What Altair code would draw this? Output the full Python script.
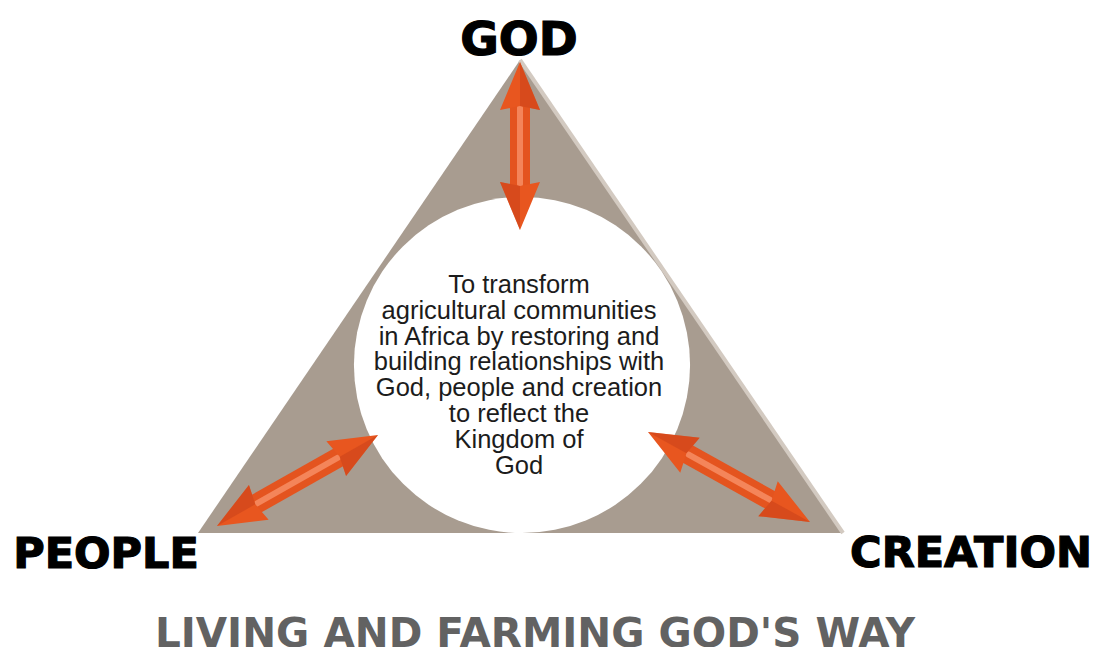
import altair as alt
import pandas as pd

# ---- diagram geometry (diagram units = picture pixels) ----
tri_x = [198, 520, 843]
tri_y = [533, 60, 533]
tri_base = [533, 533, 533]

circle_x = [522]
circle_y = [365]

arrow_names = ["GOD", "PEOPLE", "CREATION"]
arrow_x1 = [520, 217, 648]
arrow_y1 = [62, 526, 432]
arrow_x2 = [520, 378, 810]
arrow_y2 = [230, 435, 522]

corner_labels = ["GOD", "PEOPLE", "CREATION"]
corner_x = [519, 106, 971]
corner_y = [55, 568, 567]

mission_lines = [
    "To transform",
    "agricultural communities",
    "in Africa by restoring and",
    "building relationships with",
    "God, people and creation",
    "to reflect the",
    "Kingdom of",
    "God",
]
mission_x = [519]
mission_y = [293]

title_text = ["LIVING AND FARMING GOD'S WAY"]
title_x = [535]
title_y = [647]

# ---- tables ----
tri_df = pd.DataFrame({"x": tri_x, "y": tri_y, "base": tri_base})
edge_df = pd.DataFrame({"x": tri_x[1:], "y": tri_y[1:]})
circle_df = pd.DataFrame({"x": circle_x, "y": circle_y})
shaft_df = pd.DataFrame({"name": arrow_names, "x1": arrow_x1, "y1": arrow_y1,
                         "x2": arrow_x2, "y2": arrow_y2})
heads_df = pd.DataFrame({
    "tip_x": arrow_x1 + arrow_x2,
    "tip_y": arrow_y1 + arrow_y2,
    "from_x": arrow_x2 + arrow_x1,
    "from_y": arrow_y2 + arrow_y1,
})
corner_df = pd.DataFrame({"label": corner_labels, "x": corner_x, "y": corner_y})
mission_df = pd.DataFrame({"text": ["\n".join(mission_lines)], "x": mission_x, "y": mission_y})
title_df = pd.DataFrame({"text": title_text, "x": title_x, "y": title_y})

XS = alt.Scale(domain=[8, 1095], nice=False, zero=False)
YS = alt.Scale(domain=[8, 647], reverse=True, nice=False, zero=False)


def X(f):
    return alt.X(f, scale=XS, axis=None)


def Y(f):
    return alt.Y(f, scale=YS, axis=None, stack=None)


triangle = alt.Chart(tri_df).mark_area(color="#A89C90", interpolate="linear", opacity=1).encode(
    x=X("x:Q"), y=Y("y:Q"), y2=alt.Y2("base:Q")
)
edge = alt.Chart(edge_df).mark_line(color="#D3CAC1", strokeWidth=4).encode(
    x=X("x:Q"), y=Y("y:Q")
)
# circle symbol size = (diameter)^2
circle = alt.Chart(circle_df).mark_circle(size=113000, color="white", opacity=1).encode(
    x=X("x:Q"), y=Y("y:Q")
)

shaft_base = alt.Chart(shaft_df).transform_calculate(
    L="sqrt(pow(datum.x2-datum.x1,2)+pow(datum.y2-datum.y1,2))"
).transform_calculate(
    ux="(datum.x2-datum.x1)/datum.L", uy="(datum.y2-datum.y1)/datum.L"
).transform_calculate(
    sx1="datum.x1+30*datum.ux", sy1="datum.y1+30*datum.uy",
    sx2="datum.x2-30*datum.ux", sy2="datum.y2-30*datum.uy",
    hx1="datum.x1+46*datum.ux", hy1="datum.y1+46*datum.uy",
    hx2="datum.x2-46*datum.ux", hy2="datum.y2-46*datum.uy",
)
shaft = shaft_base.mark_rule(color="#E4541F", strokeWidth=20, strokeCap="butt").encode(
    x=X("sx1:Q"), y=Y("sy1:Q"), x2="sx2:Q", y2="sy2:Q"
)
shaft_hi = shaft_base.mark_rule(color="#F4855A", strokeWidth=6, strokeCap="round").encode(
    x=X("hx1:Q"), y=Y("hy1:Q"), x2="hx2:Q", y2="hy2:Q"
)

heads = alt.Chart(heads_df).transform_calculate(
    ang="(atan2(datum.tip_x-datum.from_x, -(datum.tip_y-datum.from_y))*180/PI+360)%360"
)
head_main = heads.mark_point(
    shape="M0,0L1,2.4L0,2.2L-1,2.4Z", size=1600, filled=True, color="#E8561F", opacity=1
).encode(x=X("tip_x:Q"), y=Y("tip_y:Q"), angle=alt.Angle("ang:Q", scale=None))
head_shade = heads.mark_point(
    shape="M0,0L1,2.4L0,2.2Z", size=1600, filled=True, color="#C9421A", opacity=0.55
).encode(x=X("tip_x:Q"), y=Y("tip_y:Q"), angle=alt.Angle("ang:Q", scale=None))

corner_god = alt.Chart(corner_df).transform_filter("datum.label == 'GOD'").mark_text(
    font="DejaVu Sans", fontWeight="bold", fontSize=47, align="center", baseline="alphabetic",
    color="#000000", stroke="#000000", strokeWidth=1.2
).encode(x=X("x:Q"), y=Y("y:Q"), text="label:N")
corner = alt.Chart(corner_df).transform_filter("datum.label != 'GOD'").mark_text(
    font="DejaVu Sans", fontWeight="bold", fontSize=43, align="center", baseline="alphabetic",
    color="#000000", stroke="#000000", strokeWidth=1.2
).encode(x=X("x:Q"), y=Y("y:Q"), text="label:N")

mission = alt.Chart(mission_df).mark_text(
    font="Liberation Sans", fontSize=25.5, lineBreak="\n", lineHeight=25.8,
    align="center", baseline="alphabetic", color="#1C1C1C"
).encode(x=X("x:Q"), y=Y("y:Q"), text="text:N")

title = alt.Chart(title_df).mark_text(
    font="DejaVu Sans", fontWeight="bold", fontSize=40.5, align="center", baseline="alphabetic",
    color="#626262"
).encode(x=X("x:Q"), y=Y("y:Q"), text="text:N")

chart = alt.layer(
    triangle, edge, circle, shaft, shaft_hi, head_main, head_shade,
    corner_god, corner, mission, title
).properties(
    width=1087, height=639, padding=0, background="white",
    autosize=alt.AutoSizeParams(type="none")
).configure_view(stroke=None)

chart.save("out.html", embed_options={"renderer": "svg", "actions": False})
